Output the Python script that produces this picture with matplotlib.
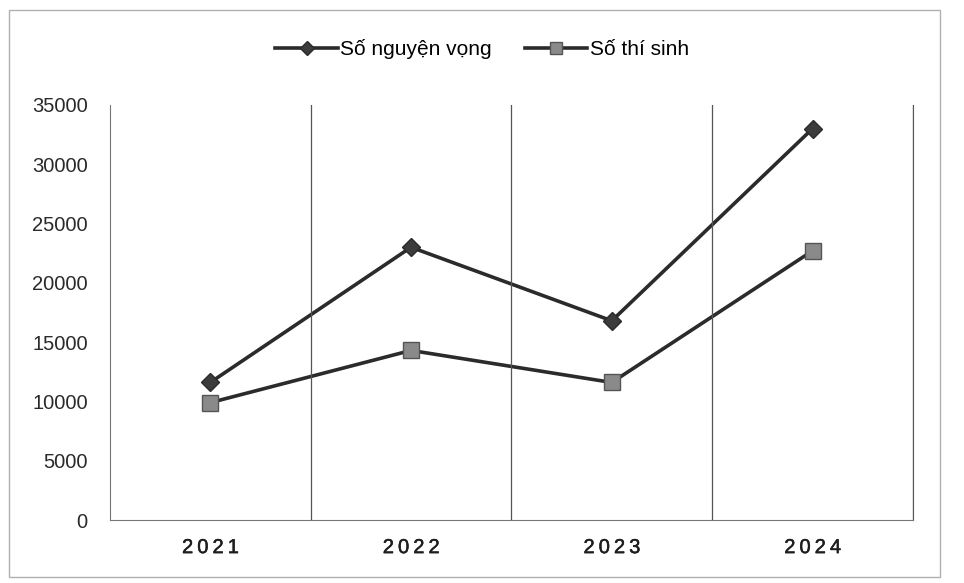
import numpy as np
import matplotlib.pyplot as plt
import matplotlib.patheffects as pe
from matplotlib.patches import Rectangle

plt.rcParams['font.family'] = ['Liberation Sans', 'DejaVu Sans']

years = ['2021', '2022', '2023', '2024']
nguyen_vong = [11600, 23000, 16800, 33000]
thi_sinh = [9900, 14300, 11600, 22700]
y_ticks = [0, 5000, 10000, 15000, 20000, 25000, 30000, 35000]

fig = plt.figure(figsize=(9.64, 5.83), dpi=100)
ax = fig.add_axes([0.114, 0.108, 0.833, 0.712])

# outer chart border
fig.patches.append(Rectangle((0.009, 0.01), 0.966, 0.972, transform=fig.transFigure,
                             fill=False, edgecolor='#b0b0b0', linewidth=1.0))

x = np.arange(len(years))
ax.plot(x, nguyen_vong, color='#2b2b2b', linewidth=2.6, marker='D', markersize=9,
        markerfacecolor='#3c3c3c', markeredgecolor='#2b2b2b', label='Số nguyện vọng')
ax.plot(x, thi_sinh, color='#2b2b2b', linewidth=2.6, marker='s', markersize=11,
        markerfacecolor='#8a8a8a', markeredgecolor='#555555', label='Số thí sinh')

ax.set_xlim(-0.5, len(years) - 0.5)
ax.set_ylim(0, 35000)
ax.set_yticks(y_ticks)
ax.set_yticklabels([str(v) for v in y_ticks], fontsize=14.5, color='#2a2a2a')
ax.set_xticks(x)
# spaced-out year labels, slightly heavier than regular
ax.set_xticklabels(['\u2009'.join(y) for y in years], fontsize=14.5,
                   fontweight='normal', color='#1e1e1e')
for lbl in ax.get_xticklabels():
    lbl.set_path_effects([pe.withStroke(linewidth=0.35, foreground='#1e1e1e')])
ax.tick_params(axis='both', length=0)
ax.tick_params(axis='y', pad=16)
ax.tick_params(axis='x', pad=13)

# vertical separators between categories
for b in np.arange(0.5, len(years), 1.0):
    ax.axvline(b, color='#555555', linewidth=0.9)

ax.spines['top'].set_visible(False)
ax.spines['right'].set_color('#555555')
ax.spines['left'].set_color('#777777')
ax.spines['bottom'].set_color('#777777')

leg = fig.legend(loc='upper center', bbox_to_anchor=(0.5, 0.965), ncol=2, frameon=False,
                 fontsize=15, handlelength=3.0, columnspacing=1.6, handletextpad=0.1,
                 markerscale=0.75)

fig.savefig('out.png', dpi=100)
